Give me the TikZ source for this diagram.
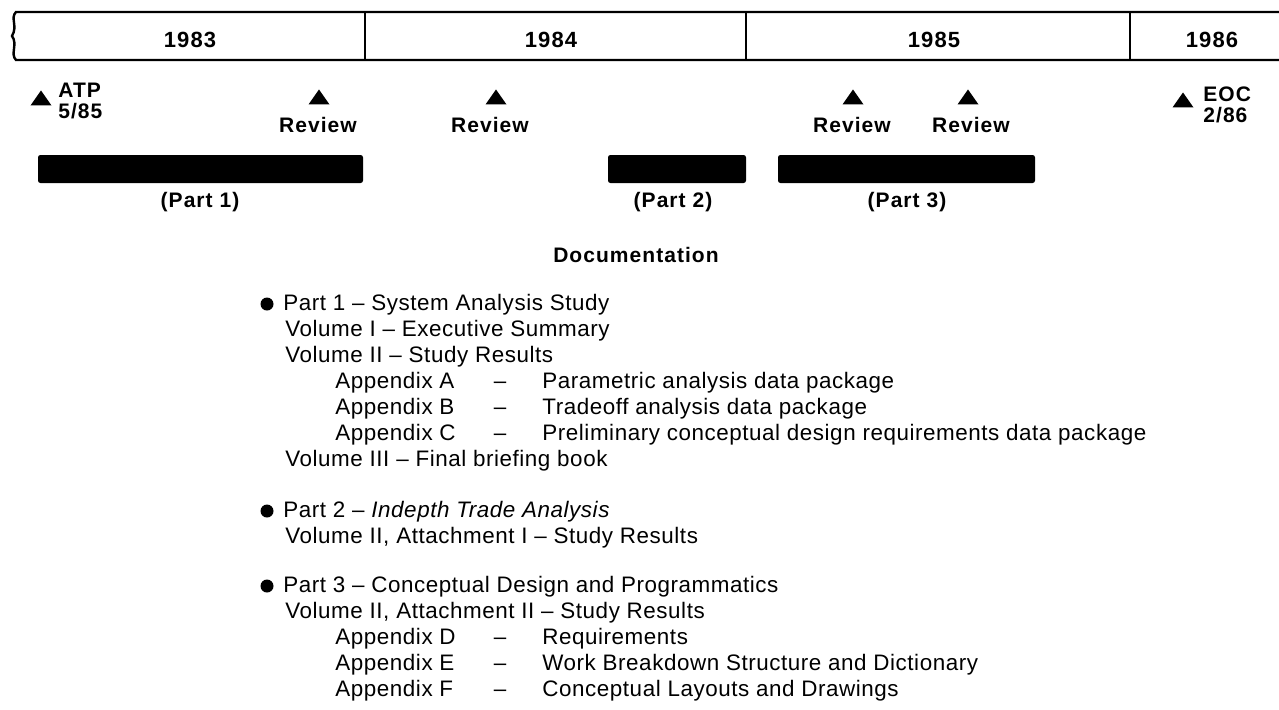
\documentclass[tikz,border=0pt]{standalone}
\usepackage{fontspec}
\setmainfont[LetterSpace=2.5]{Liberation Sans}
\newfontfamily\headfont[LetterSpace=5]{Liberation Sans}
\usetikzlibrary{shapes.geometric}

\tikzset{
  year/.style={anchor=base, font=\headfont\bfseries\fontsize{11}{13}\selectfont},
  milestone/.style={isosceles triangle, isosceles triangle apex angle=70,
    shape border rotate=90, fill, inner sep=0pt, minimum height=7.5pt},
  mlabel/.style={font=\headfont\bfseries\fontsize{10.5}{12}\selectfont},
  bar/.style={fill, rounded corners=1.2pt},
  dot/.style={circle, fill, inner sep=0pt, minimum size=6.5pt},
}

\begin{document}
\begin{tikzpicture}[x=0.5pt,y=-0.5pt]
  \useasboundingbox (0,0) rectangle (1279,709);

  % the years band
  \draw[line width=1.2pt] (1279,12) -- (16,12)
    .. controls (10,18) and (18,26) .. (12,36)
    .. controls (18,44) and (10,54) .. (16,60) -- (1279,60);
  \foreach \x in {365,746,1130}
    \draw[line width=1pt] (\x,12) -- (\x,60);

  \node[year] (y83) at (190,47)  {1983};
  \node[year] (y84) at (551,47)  {1984};
  \node[year] (y85) at (934,47)  {1985};
  \node[year] (y86) at (1212,47) {1986};

  % milestones
  \node[milestone] (atp) at (41,100)  {};
  \node[milestone] (r1)  at (319,99)  {};
  \node[milestone] (r2)  at (496,99)  {};
  \node[milestone] (r3)  at (853,99)  {};
  \node[milestone] (r4)  at (968,99)  {};
  \node[milestone] (eoc) at (1183,102) {};

  \begin{scope}[every node/.style={mlabel, anchor=base west, inner sep=0pt}]
    \node (atpt) at (58,97)   {ATP};
    \node (atpd) at (58,118)  {5/85};
    \node (eoct) at (1203,101) {EOC};
    \node (eocd) at (1203,122) {2/86};
  \end{scope}

  \begin{scope}[every node/.style={mlabel, anchor=base, inner sep=0pt}]
    \node (rv1) at (318,132) {Review};
    \node (rv2) at (490,132) {Review};
    \node (rv3) at (852,132) {Review};
    \node (rv4) at (971,132) {Review};
  \end{scope}

  % the three parts
  \fill[bar] (38,155)  rectangle (363,183);
  \fill[bar] (608,155) rectangle (746,183);
  \fill[bar] (778,155) rectangle (1035,183);

  \begin{scope}[every node/.style={mlabel, anchor=base, inner sep=0pt}]
    \node (p1) at (200,207) {(Part 1)};
    \node (p2) at (673,207) {(Part 2)};
    \node (p3) at (907,207) {(Part 3)};
    \node (doc) at (636,262) {Documentation};
  \end{scope}

  % documentation list
  \node[dot] (b1) at (267,304) {};
  \node[dot] (b2) at (267,511) {};
  \node[dot] (b3) at (267,586) {};

  \begin{scope}[every node/.style={anchor=base west, inner sep=0pt,
      font=\fontsize{11.2}{13}\selectfont}]
    \node (l1)  at (283,310) {Part 1 -- System Analysis Study};
    \node (l2)  at (285,336) {Volume I -- Executive Summary};
    \node (l3)  at (285,362) {Volume II -- Study Results};
    \node (aa)  at (335,388) {Appendix A};
    \node (ab)  at (335,414) {Appendix B};
    \node (ac)  at (335,440) {Appendix C};
    \node (ta)  at (542,388) {Parametric analysis data package};
    \node (tb)  at (542,414) {Tradeoff analysis data package};
    \node (tc)  at (542,440) {Preliminary conceptual design requirements data package};
    \node (l4)  at (285,466) {Volume III -- Final briefing book};

    \node (l5)  at (283,517) {Part 2 -- \textit{Indepth Trade Analysis}};
    \node (l6)  at (285,543) {Volume II, Attachment I -- Study Results};

    \node (l7)  at (283,592) {Part 3 -- Conceptual Design and Programmatics};
    \node (l8)  at (285,618) {Volume II, Attachment II -- Study Results};
    \node (ad)  at (335,644) {Appendix D};
    \node (ae)  at (335,670) {Appendix E};
    \node (af)  at (335,696) {Appendix F};
    \node (td)  at (542,644) {Requirements};
    \node (te)  at (542,670) {Work Breakdown Structure and Dictionary};
    \node (tf)  at (542,696) {Conceptual Layouts and Drawings};
  \end{scope}

  \begin{scope}[every node/.style={anchor=base, inner sep=0pt,
      font=\fontsize{11.2}{13}\selectfont}]
    \foreach \y/\n in {388/da,414/db,440/dc,644/dd,670/de,696/df}
      \node (\n) at (500,\y) {--};
  \end{scope}

\end{tikzpicture}
\end{document}
